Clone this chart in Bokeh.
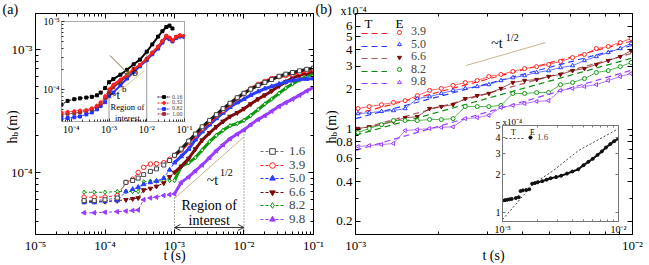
import math
from bokeh.plotting import figure
from bokeh.models import (FixedTicker, LogAxis, Label, Legend, LegendItem,
                          Arrow, OpenHead, VeeHead, GridBox, Range1d)
from bokeh.embed import file_html
from bokeh.resources import INLINE

FONT = "Liberation Serif"

# ================= DATA : panel (a), main plot (h_b in m, t in s) =================
A_T_EARLY = [5e-5, 7e-5, 1e-4, 1.5e-4, 2e-4, 2.5e-4, 3e-4, 3.6e-4, 4.5e-4, 5.5e-4, 7e-4, 8.5e-4]
A_T_LATE = [1.0e-3, 1.25e-3, 1.6e-3, 2.0e-3, 2.5e-3, 3.2e-3, 4.0e-3, 5.0e-3, 6.3e-3, 8.0e-3,
            1.0e-2, 1.25e-2, 1.6e-2, 2.0e-2, 2.5e-2, 3.2e-2, 4.0e-2, 5.0e-2, 6.3e-2, 8.0e-2, 1.0e-1]
A16_EARLY = [5.9e-5, 5.9e-5, 6.0e-5, 6.2e-5, 8.3e-5, 8.6e-5, 9.0e-5, 9.6e-5, 1.02e-4, 1.07e-4, 1.15e-4, 1.25e-4]
A16_LATE = [1.38e-4, 1.55e-4, 1.80e-4, 2.05e-4, 2.35e-4, 2.65e-4, 2.95e-4, 3.30e-4, 3.65e-4, 4.05e-4,
            4.40e-4, 4.75e-4, 5.10e-4, 5.40e-4, 5.70e-4, 6.05e-4, 6.30e-4, 6.50e-4, 6.70e-4, 6.90e-4, 7.05e-4]
A39_EARLY = [6.3e-5, 6.3e-5, 6.3e-5, 6.5e-5, 8.3e-5, 8.8e-5, 1.0e-4, 1.1e-4, 1.17e-4, 1.18e-4, 1.2e-4, 1.28e-4]
A39_LATE = [1.37e-4, 1.52e-4, 1.75e-4, 2.0e-4, 2.28e-4, 2.58e-4, 2.9e-4, 3.2e-4, 3.6e-4, 4.0e-4,
            4.4e-4, 4.8e-4, 5.2e-4, 5.5e-4, 5.8e-4, 6.0e-4, 6.15e-4, 6.3e-4, 6.5e-4, 6.7e-4, 6.9e-4]
A50_EARLY = [5.7e-5, 5.7e-5, 5.8e-5, 5.9e-5, 7.0e-5, 7.3e-5, 7.6e-5, 8.0e-5, 8.3e-5, 8.5e-5, 9.0e-5, 1.05e-4]
A50_LATE = [1.2e-4, 1.35e-4, 1.55e-4, 1.85e-4, 2.15e-4, 2.45e-4, 2.75e-4, 3.05e-4, 3.4e-4, 3.7e-4,
            3.95e-4, 4.25e-4, 4.55e-4, 4.8e-4, 5.0e-4, 5.25e-4, 5.45e-4, 5.6e-4, 5.7e-4, 5.75e-4, 5.8e-4]
A66_EARLY = [5.8e-5, 5.8e-5, 5.8e-5, 5.9e-5, 6.0e-5, 6.1e-5, 6.2e-5, 7.2e-5, 7.4e-5, 7.7e-5, 8.2e-5, 9.2e-5]
A66_LATE = [1.0e-4, 1.12e-4, 1.3e-4, 1.55e-4, 1.83e-4, 2.1e-4, 2.35e-4, 2.6e-4, 2.85e-4, 3.05e-4,
            3.3e-4, 3.6e-4, 3.95e-4, 4.25e-4, 4.6e-4, 5.05e-4, 5.45e-4, 5.85e-4, 6.15e-4, 6.4e-4, 6.6e-4]
A82_EARLY = [6.9e-5, 6.9e-5, 6.9e-5, 7.0e-5, 7.0e-5, 7.0e-5, 7.0e-5, 8.4e-5, 8.5e-5, 8.5e-5, 8.6e-5, 8.6e-5]
A82_LATE = [8.6e-5, 1.12e-4, 1.2e-4, 1.32e-4, 1.52e-4, 1.78e-4, 2.0e-4, 2.2e-4, 2.4e-4, 2.5e-4,
            2.65e-4, 2.9e-4, 3.25e-4, 3.6e-4, 3.95e-4, 4.4e-4, 4.85e-4, 5.25e-4, 5.65e-4, 6.05e-4, 6.4e-4]
A98_EARLY = [4.7e-5, 4.7e-5, 4.75e-5, 4.8e-5, 4.85e-5, 4.9e-5, 4.95e-5, 6.0e-5, 6.2e-5, 6.3e-5, 6.5e-5, 6.6e-5]
A98_LATE = [6.7e-5, 8.3e-5, 9.2e-5, 1.03e-4, 1.15e-4, 1.32e-4, 1.5e-4, 1.68e-4, 1.88e-4, 2.05e-4,
            2.22e-4, 2.45e-4, 2.7e-4, 2.9e-4, 3.15e-4, 3.45e-4, 3.7e-4, 3.95e-4, 4.25e-4, 4.6e-4, 4.9e-4]
A_LABELS = ["1.6", "3.9", "5.0", "6.6", "8.2", "9.8"]

# panel (a) annotations
REGION_T = [1e-3, 1e-2]
A_REGION_LEFT_H = [3.13e-5, 6.5e-5]
A_REGION_RIGHT_H = [3.13e-5, 2.2e-4]
A_ARROW_H = 3.57e-5
A_GUIDE_T = [1e-3, 1e-2]
A_GUIDE_H = [6.15e-5, 1.95e-4]

# ================= DATA : panel (a), inset =================
IA_T = [5.5e-5, 8e-5, 1.2e-4, 1.7e-4, 2.5e-4, 3.5e-4, 4.8e-4, 6e-4, 7.9e-4, 1.0e-3, 1.3e-3, 2e-3,
        3e-3, 4.5e-3, 6.6e-3, 1e-2, 1.4e-2, 2e-2, 2.6e-2, 3.3e-2, 4e-2, 4.8e-2, 6e-2, 7.5e-2, 1e-1]
IA_016 = [6.0e-5, 6.8e-5, 7.2e-5, 7.4e-5, 7.6e-5, 7.8e-5, 8.2e-5, 9.0e-5, 1.05e-4, 1.28e-4, 1.42e-4,
          1.65e-4, 1.95e-4, 2.35e-4, 2.75e-4, 3.6e-4, 4.6e-4, 6.0e-4, 7.2e-4, 8.3e-4, 8.7e-4, 7.9e-4]
IA_032 = [4.6e-5, 4.7e-5, 4.8e-5, 4.9e-5, 5.0e-5, 5.3e-5, 5.8e-5, 6.5e-5, 8.0e-5, 1.0e-4, 1.18e-4, 1.4e-4,
          1.65e-4, 2.0e-4, 2.3e-4, 2.85e-4, 3.5e-4, 4.3e-4, 5.2e-4, 6.2e-4, 5.8e-4, 5.3e-4, 6.0e-4, 6.3e-4, 6.1e-4]
IA_082 = [3.7e-5, 3.8e-5, 3.9e-5, 4.0e-5, 4.3e-5, 4.6e-5, 5.1e-5, 5.7e-5, 6.5e-5, 8.0e-5, 9.0e-5, 1.15e-4,
          1.45e-4, 1.8e-4, 2.2e-4, 2.7e-4, 3.3e-4, 4.0e-4, 4.9e-4, 5.8e-4, 5.5e-4, 5.1e-4, 5.7e-4, 6.0e-4, 5.9e-4]
IA_100 = [4.3e-5, 4.4e-5, 4.5e-5, 4.6e-5, 4.8e-5, 5.1e-5, 5.6e-5, 6.2e-5, 7.5e-5, 9.0e-5, 1.08e-4, 1.3e-4,
          1.6e-4, 1.95e-4, 2.3e-4, 2.8e-4, 3.45e-4, 4.2e-4, 5.1e-4, 6.1e-4, 5.7e-4, 5.2e-4, 5.9e-4, 6.2e-4, 6.1e-4]
IA_LABELS = ["0.16", "0.32", "0.82", "1.00"]
IA_ARROW = [1.06e-3, 3.16e-4, 3.57e-3, 1.61e-4]
IA_GUIDE_T = [9.4e-4, 8.8e-3]
IA_GUIDE_H = [6.9e-5, 1.9e-4]
IA_REGION_LEFT_H = [3.38e-5, 1.0e-4]
IA_REGION_RIGHT_H = [3.38e-5, 3.75e-4]

# ================= DATA : panel (b), main plot (h_b in 1e-4 m) =================
T_B = [1.02e-3, 1.12e-3, 1.24e-3, 1.37e-3, 1.51e-3, 1.67e-3, 1.85e-3, 2.04e-3, 2.25e-3, 2.49e-3,
       2.75e-3, 3.03e-3, 3.35e-3, 3.70e-3, 4.08e-3, 4.51e-3, 4.98e-3, 5.50e-3, 6.08e-3, 6.71e-3,
       7.41e-3, 8.18e-3, 9.04e-3, 9.89e-3]
B39 = [1.43, 1.48, 1.53, 1.59, 1.64, 1.79, 1.96, 2.03, 2.14, 2.25, 2.33, 2.50, 2.59, 2.73, 2.87, 2.97,
       3.08, 3.25, 3.48, 3.67, 4.07, 4.22, 4.52, 4.85]
B50 = [1.31, 1.33, 1.36, 1.38, 1.43, 1.70, 1.76, 1.86, 1.96, 2.03, 2.10, 2.17, 2.33, 2.45, 2.54, 2.68,
       2.77, 2.92, 3.02, 3.30, 3.54, 3.80, 4.07, 4.45]
B66 = [1.01, 1.04, 1.08, 1.14, 1.22, 1.24, 1.43, 1.48, 1.53, 1.70, 1.79, 1.86, 2.03, 2.25, 2.33, 2.37,
       2.50, 2.59, 2.77, 2.87, 3.08, 3.30, 3.54, 3.93]
B82 = [0.94, 1.01, 1.08, 1.16, 1.16, 1.16, 1.18, 1.18, 1.20, 1.48, 1.48, 1.48, 1.51, 1.86, 1.86, 1.89,
       1.89, 2.17, 2.25, 2.41, 2.68, 2.77, 2.97, 3.19]
B98 = [0.737, 0.75, 0.763, 0.777, 0.974, 0.99, 1.01, 1.03, 1.04, 1.20, 1.22, 1.27, 1.46, 1.51, 1.56,
       1.62, 1.64, 1.96, 2.03, 2.10, 2.17, 2.33, 2.50, 2.63]
T_B_THEORY = [1e-3, 1e-2]
B39_T = [1.30, 4.65]
B50_T = [1.20, 4.30]
B66_T = [0.98, 3.75]
B82_T = [0.90, 3.45]
B98_T = [0.69, 2.80]
B_LABELS = ["3.9", "5.0", "6.6", "8.2", "9.8"]
B_GUIDE_T = [2.51e-3, 4.86e-3]
B_GUIDE_H = [3.03, 4.52]

# ================= DATA : panel (b), inset (E = 1.6) =================
IB_T = [1.0e-3, 1.05e-3, 1.1e-3, 1.15e-3, 1.2e-3, 1.3e-3, 1.38e-3, 1.43e-3, 1.5e-3, 1.6e-3, 1.7e-3,
        1.8e-3, 1.9e-3, 2.0e-3, 2.2e-3, 2.4e-3, 2.6e-3, 2.9e-3, 3.2e-3, 3.6e-3, 4.0e-3, 4.5e-3,
        5.0e-3, 5.5e-3, 6.0e-3, 6.6e-3, 7.2e-3, 7.8e-3, 8.5e-3, 9.2e-3, 1.0e-2]
IB_H = [1.24, 1.25, 1.26, 1.27, 1.28, 1.30, 1.32, 1.48, 1.50, 1.51, 1.53, 1.70, 1.72, 1.74, 1.78,
        1.83, 1.88, 1.92, 1.97, 2.05, 2.13, 2.22, 2.40, 2.55, 2.70, 2.90, 3.10, 3.33, 3.55, 3.75, 3.93]
IB_T_THEORY = [1.0e-3, 1.85e-3, 2.75e-3, 4.5e-3, 1.0e-2]
IB_H_THEORY = [0.87, 1.70, 2.17, 3.14, 4.73]

# ================= tick definitions =================
DEC_LABELS = {1e-5: "10⁻⁵", 1e-4: "10⁻⁴", 1e-3: "10⁻³", 1e-2: "10⁻²", 1e-1: "10⁻¹"}
A_X_TICKS = [1e-5, 1e-4, 1e-3, 1e-2, 1e-1]
A_Y_TICKS = [1e-4, 1e-3]
B_X_TICKS = [1e-3, 1e-2]
B_Y_TICKS = [0.2, 0.4, 0.6, 0.8, 1, 2, 3, 4, 5, 6]
B_Y_LABELS = ["0.2", "0.4", "0.6", "0.8", "1", "2", "3", "4", "5", "6"]
B_Y_MINOR = [0.3, 0.5, 0.7, 0.9]
IB_Y_TICKS = [1, 2, 3, 4, 5]
IB_Y_LABELS = ["1", "2", "3", "4", "5"]


def minors(exps):
    return [m * 10.0 ** e for e in exps for m in range(2, 10)]


def base_fig(xr, yr, fw, fh, bl, br, bt, bb, transparent=False):
    p = figure(x_axis_type="log", y_axis_type="log",
               x_range=Range1d(*xr), y_range=Range1d(*yr),
               frame_width=fw, frame_height=fh,
               min_border_left=bl, min_border_right=br,
               min_border_top=bt, min_border_bottom=bb,
               output_backend="svg", toolbar_location=None, align="start",
               frame_align=False)
    p.xgrid.visible = False
    p.ygrid.visible = False
    p.background_fill_color = "white"
    p.border_fill_color = None if transparent else "white"
    p.outline_line_color = "black"
    return p


def cfg_axis(ax, ticks, minor, labels, fs="13px", standoff=3, tin=5, tmin=3, color="black"):
    ax.ticker = FixedTicker(ticks=ticks, minor_ticks=minor)
    ax.major_tick_in = tin
    ax.major_tick_out = 0
    ax.minor_tick_in = tmin
    ax.minor_tick_out = 0
    ax.major_tick_line_color = color
    ax.minor_tick_line_color = color
    ax.axis_line_color = color
    ax.major_label_text_font = FONT
    ax.major_label_text_color = "black"
    if labels is None:
        ax.major_label_text_font_size = "0px"
        ax.major_label_standoff = 0
        ax.major_label_overrides = {t: "" for t in ticks}
    else:
        ax.major_label_text_font_size = fs
        ax.major_label_standoff = standoff
        ax.major_label_overrides = {t: l for t, l in zip(ticks, labels)}


def mirror(p, xt, xm, yt, ym, tin=5, tmin=3, color="black"):
    top = LogAxis()
    cfg_axis(top, xt, xm, None, tin=tin, tmin=tmin, color=color)
    p.add_layout(top, "above")
    right = LogAxis()
    cfg_axis(right, yt, ym, None, tin=tin, tmin=tmin, color=color)
    p.add_layout(right, "right")


def txt(p, x, y, s, fs, units="data", align="left", base="middle", angle=0.0, color="black"):
    p.add_layout(Label(x=x, y=y, x_units=units, y_units=units, text=s, text_font=FONT,
                       text_font_size=fs, text_align=align, text_baseline=base,
                       angle=angle, text_color=color))


def one_legend(p, label, renderers, vx, vy, fs, gw, gh, standoff):
    """a single-entry legend, so that every entry can be put exactly where it sits"""
    p.add_layout(Legend(items=[LegendItem(label=label, renderers=renderers)],
                        location=(vx, vy), orientation="vertical", padding=0, margin=0,
                        spacing=0, glyph_width=gw, glyph_height=gh, label_height=gh,
                        label_standoff=standoff, label_text_font=FONT, label_text_font_size=fs,
                        background_fill_alpha=0, border_line_alpha=0))


# ================================ PANEL (a) ================================
FW, FH = 278, 221
pa = base_fig((0.999e-5, 1.001e-1), (3.13e-5, 1.96e-3), FW, FH, 35, 20, 13, 29)
xm_a = minors([-5, -4, -3, -2])
ym_a = [m * 1e-5 for m in range(4, 10)] + minors([-4])
cfg_axis(pa.xaxis[0], A_X_TICKS, xm_a, [DEC_LABELS[t] for t in A_X_TICKS])
cfg_axis(pa.yaxis[0], A_Y_TICKS, ym_a, [DEC_LABELS[t] for t in A_Y_TICKS])
mirror(pa, A_X_TICKS, xm_a, A_Y_TICKS, ym_a)

A_SERIES = [
    ("1.6", A16_EARLY, A16_LATE, "#1a1a1a", "#6e6e6e", "square", False, 0.0),
    ("3.9", A39_EARLY, A39_LATE, "#ff2222", "#ff2222", "circle", False, 0.0),
    ("5.0", A50_EARLY, A50_LATE, "#2a3cff", "#2a3cff", "triangle", True, 0.0),
    ("6.6", A66_EARLY, A66_LATE, "#7d0a0a", "#7d0a0a", "inverted_triangle", True, 0.0),
    ("8.2", A82_EARLY, A82_LATE, "#0a9a0a", "#0a9a0a", "diamond", False, 0.0),
    ("9.8", A98_EARLY, A98_LATE, "#9a3cff", "#9a3cff", "triangle", True, math.pi / 2),
]
a_rend = {}
for lab, early, late, col, dcol, mk, filled, ang in reversed(A_SERIES):
    t = A_T_EARLY + A_T_LATE
    h = early + late
    ld = pa.line(t, h, line_color=dcol, line_dash="3 2", line_width=1)
    pa.line(A_T_LATE, late, line_color=col, line_width=3)
    sc = pa.scatter(t, h, marker=mk, size=4 if mk == "square" else 4.5, angle=ang,
                    line_color="#444444" if mk == "square" else col,
                    fill_color=col if filled else "white", line_width=1)
    a_rend[lab] = [ld, sc]
for i, lab in enumerate(A_LABELS):
    one_legend(pa, lab, a_rend[lab], 225, 75 - 13.5 * i, "13px", 24, 14, 5)

# region of interest
pa.line([REGION_T[0]] * 2, A_REGION_LEFT_H, line_color="#555555", line_dash="1 2", line_width=1)
pa.line([REGION_T[1]] * 2, A_REGION_RIGHT_H, line_color="#555555", line_dash="1 2", line_width=1)
pa.add_layout(Arrow(start=OpenHead(size=6, line_width=1, line_color="#333333"),
                    end=OpenHead(size=6, line_width=1, line_color="#333333"),
                    x_start=REGION_T[0], y_start=A_ARROW_H, x_end=REGION_T[1], y_end=A_ARROW_H,
                    line_color="#333333", line_width=1))
pa.line(A_GUIDE_T, A_GUIDE_H, line_color="#c8b48c", line_width=1)
txt(pa, 3.16e-3, 5.4e-5, "Region of", "14px", align="center")
txt(pa, 3.16e-3, 4.07e-5, "interest", "14px", align="center")
txt(pa, 2.91e-3, 8.6e-5, "~t", "14px")
txt(pa, 4.5e-3, 1.0e-4, "1/2", "10px")

# ================================ INSET of (a) ================================
ia = base_fig((5.5e-5, 1.001e-1), (3.38e-5, 1.001e-3), 123, 100, 24, 12, 6, 15, transparent=True)
ia.outline_line_color = "#555555"
ia.outline_line_dash = "1 1"
cfg_axis(ia.xaxis[0], A_X_TICKS[1:], minors([-5, -4, -3, -2]), [DEC_LABELS[t] for t in A_X_TICKS[1:]],
         fs="10px", standoff=2, tin=3, tmin=2, color="#333333")
cfg_axis(ia.yaxis[0], A_Y_TICKS, [m * 1e-5 for m in range(4, 10)] + minors([-4]),
         [DEC_LABELS[t] for t in A_Y_TICKS], fs="10px", standoff=2, tin=3, tmin=2, color="#333333")
ia.xaxis[0].axis_line_color = None
ia.yaxis[0].axis_line_color = None

IA_SERIES = [
    ("0.82", IA_T, IA_082, "#2030ff", "square"),
    ("1.00", IA_T, IA_100, "#9b2c2c", "square"),
    ("0.32", IA_T, IA_032, "#ff2020", "circle"),
    ("0.16", IA_T[:len(IA_016)], IA_016, "#000000", "square"),
]
ia_rend = {}
for lab, t, h, col, mk in IA_SERIES:
    ld = ia.line(t, h, line_color=col, line_dash="2 1", line_width=1)
    ia.line(t[9:], h[9:], line_color=col, line_width=2)
    sc = ia.scatter(t, h, marker=mk, size=3, line_color=col, fill_color=col)
    ia_rend[lab] = [ld, sc]
for i, lab in enumerate(IA_LABELS):
    one_legend(ia, lab, ia_rend[lab], 96, 21 - 5.8 * i, "6px", 13, 7, 2)
ia.line([REGION_T[0]] * 2, IA_REGION_LEFT_H, line_color="#333333", line_dash="1 1", line_width=1)
ia.line([REGION_T[1]] * 2, IA_REGION_RIGHT_H, line_color="#333333", line_dash="1 1", line_width=1)
ia.line(IA_GUIDE_T, IA_GUIDE_H, line_color="#d6cf86", line_width=1)
ia.add_layout(Arrow(end=VeeHead(size=5, line_color="#7a6a30", fill_color="#7a6a30"),
                    x_start=IA_ARROW[0], y_start=IA_ARROW[1], x_end=IA_ARROW[2], y_end=IA_ARROW[3],
                    line_color="#7a6a30", line_width=1))
txt(ia, 4.04e-3, 1.78e-4, "b", "12px")
txt(ia, 1.06e-3, 8.2e-5, "~t", "12px")
txt(ia, 2.2e-3, 1.0e-4, "b", "9px")
txt(ia, 3.07e-3, 5.44e-5, "Region of", "8.5px", align="center")
txt(ia, 3.07e-3, 3.87e-5, "interest", "8.5px", align="center")

# ================================ PANEL (b) ================================
pb = base_fig((0.999e-3, 1.001e-2), (0.159, 7.5), FW, FH, 21, 13, 13, 29)
xm_b = minors([-3])
cfg_axis(pb.xaxis[0], B_X_TICKS, xm_b, [DEC_LABELS[t] for t in B_X_TICKS])
cfg_axis(pb.yaxis[0], B_Y_TICKS, B_Y_MINOR, B_Y_LABELS)
mirror(pb, B_X_TICKS, xm_b, B_Y_TICKS, B_Y_MINOR)

B_SERIES = [
    ("3.9", B39, B39_T, "#ff2222", "#ff2222", "circle", False, 0.0),
    ("5.0", B50, B50_T, "#2a3cff", "#2a3cff", "triangle", False, 0.0),
    ("6.6", B66, B66_T, "#7d0a0a", "#a85a5a", "inverted_triangle", True, 0.0),
    ("8.2", B82, B82_T, "#0a9a0a", "#0a8a0a", "circle", False, 0.0),
    ("9.8", B98, B98_T, "#9a3cff", "#9a3cff", "triangle", False, math.pi / 2),
]
for i, (lab, h, th, col, dcol, mk, filled, ang) in enumerate(B_SERIES):
    ld = pb.line(T_B_THEORY, th, line_color=dcol, line_dash="6 4", line_width=1.2)
    pb.line(T_B, h, line_color=col, line_width=1, alpha=0.7)
    sc = pb.scatter(T_B, h, marker=mk, size=4, angle=ang, line_color=col,
                    fill_color=col if filled else "white", line_width=1)
    vy = 195 - 12.5 * i
    one_legend(pb, " ", [ld], 6, vy, "11px", 26, 12, 0)
    one_legend(pb, lab, [sc], 39, vy, "12px", 10, 12, 7)
txt(pb, 13, 211, "T", "13px", units="screen", align="center")
txt(pb, 44, 211, "E", "13px", units="screen", align="center")
pb.line(B_GUIDE_T, B_GUIDE_H, line_color="#c8b48c", line_width=1)
txt(pb, 3.09e-3, 4.44, "~t", "14px")
txt(pb, 3.49e-3, 4.93, "1/2", "10px")

# ================================ INSET of (b) ================================
ib = base_fig((0.999e-3, 1.001e-2), (0.84, 5.02), 116, 96, 10, 12, 14, 14, transparent=True)
ib.outline_line_color = "#777777"
cfg_axis(ib.xaxis[0], B_X_TICKS, minors([-3]), [DEC_LABELS[t] for t in B_X_TICKS],
         fs="10px", standoff=2, tin=3, tmin=2, color="#777777")
cfg_axis(ib.yaxis[0], IB_Y_TICKS, [], IB_Y_LABELS, fs="10px", standoff=2, tin=3, tmin=2, color="#777777")
mirror(ib, B_X_TICKS, minors([-3]), IB_Y_TICKS, [], tin=3, tmin=2, color="#777777")
th_r = ib.line(IB_T_THEORY, IB_H_THEORY, line_color="#444444", line_dash="2 2", line_width=1)
ib.line(IB_T[11:], IB_H[11:], line_color="#111111", line_width=2)
sc_ib = ib.scatter(IB_T, IB_H, marker="circle", size=3, line_color="#111111", fill_color="#111111")
one_legend(ib, " ", [th_r], 3, 79, "8px", 20, 8, 0)
one_legend(ib, "1.6", [sc_ib], 24, 79, "9px", 8, 8, 3)
txt(ib, 11, 89, "T", "8px", units="screen", align="center")
txt(ib, 30, 89, "E", "8px", units="screen", align="center")

# ============ overlay for texts that sit outside the plot frames (pixel coords, y down) ============
W, H = 645, 263
ov = figure(x_range=Range1d(0, W), y_range=Range1d(H, 0), frame_width=W, frame_height=H,
            min_border=0, x_axis_location=None, y_axis_location=None,
            output_backend="svg", toolbar_location=None, align="start", frame_align=False)
ov.xgrid.visible = False
ov.ygrid.visible = False
ov.outline_line_color = None
ov.background_fill_color = None
ov.border_fill_color = None
txt(ov, 2, 9, "(a)", "14px")
txt(ov, 315, 9, "(b)", "14px")
txt(ov, 340, 10, "x10⁻⁴", "12px", base="alphabetic")
txt(ov, 502, 121, "x10⁻⁴", "9px", base="alphabetic")
for bx in (12, 331):
    txt(ov, bx, 143, "h", "14px", base="alphabetic", angle=math.pi / 2)
    txt(ov, bx + 2.5, 136, "b", "9px", base="alphabetic", angle=math.pi / 2)
    txt(ov, bx, 130, "(m)", "14px", base="alphabetic", angle=math.pi / 2)
txt(ov, 35 + FW / 2, 255, "t (s)", "14px", align="center", base="alphabetic")
txt(ov, 354 + FW / 2, 255, "t (s)", "14px", align="center", base="alphabetic")

# ================================ LAYOUT ================================
grid = GridBox(children=[(pa, 0, 0, 3, 2), (pb, 0, 2, 3, 2), (ia, 1, 1, 2, 1), (ib, 2, 3, 1, 1),
                         (ov, 0, 0, 3, 4)],
               rows=["15px", "96px", "152px"], cols=["37px", "296px", "159px", "153px"], spacing=0)

open("out.html", "w").write(file_html(grid, INLINE))
